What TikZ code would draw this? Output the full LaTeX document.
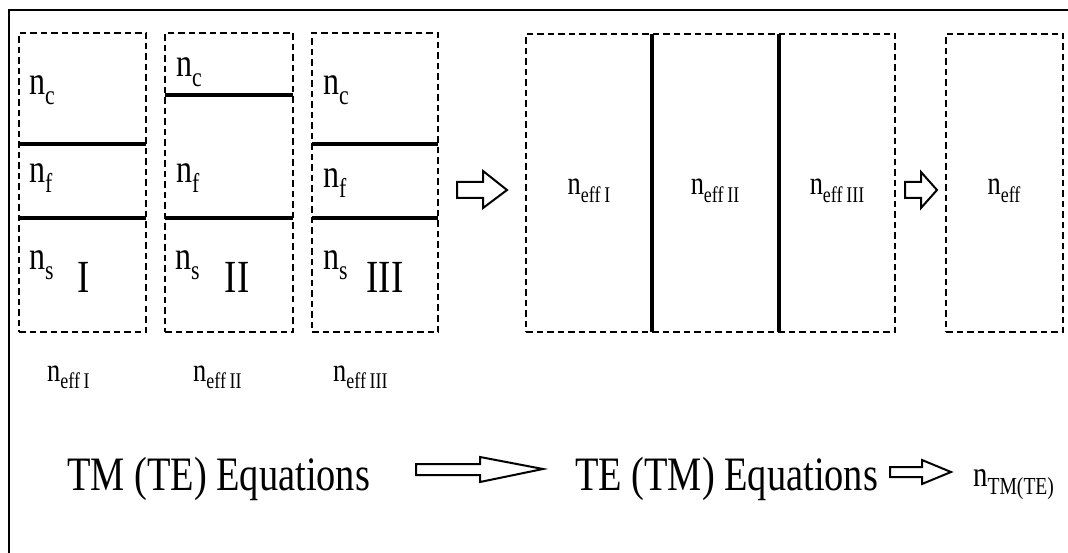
\documentclass[tikz,border=0pt]{standalone}
\usepackage{fontspec}
\setmainfont{Liberation Serif}[FakeStretch=0.8]
\newcommand{\nsub}[1]{n\raisebox{-0.24em}{\scalebox{0.68}{#1}}}
\tikzset{
  frameline/.style={line width=2pt},
  dbox/.style={draw, line width=2.2pt, dash pattern=on 6.5pt off 4pt, inner sep=0pt, outer sep=0pt, anchor=north west},
  layer/.style={line width=3.2pt},
  blockarrow/.style={draw, line width=2pt, fill=white, line join=miter},
  lbl/.style={font=\fontsize{40}{44}\selectfont, anchor=base west, inner sep=0pt},
  roman/.style={font=\fontsize{46}{50}\selectfont, anchor=base, inner sep=0pt},
  eff/.style={font=\fontsize{33}{36}\selectfont, anchor=base, inner sep=0pt},
  effw/.style={font=\fontsize{33}{36}\selectfont, anchor=base west, inner sep=0pt},
  eqn/.style={font=\fontsize{48}{52}\selectfont, anchor=base west, inner sep=0pt},
}
\begin{document}
\begin{tikzpicture}[x=1pt,y=-1pt]
\useasboundingbox (0,0) rectangle (1068,553);
% outer frame (top and left only)
\draw[frameline] (9,553) -- (9,10) -- (1068,10);

% three layer boxes
\node[dbox, minimum width=127pt, minimum height=299pt] (b1) at (19,33) {};
\node[dbox, minimum width=128pt, minimum height=299pt] (b2) at (165,33) {};
\node[dbox, minimum width=126pt, minimum height=299pt] (b3) at (312,33) {};
\draw[layer] (19,144) -- (146,144);
\draw[layer] (19,218) -- (146,218);
\draw[layer] (165,95) -- (293,95);
\draw[layer] (165,218) -- (293,218);
\draw[layer] (312,144) -- (438,144);
\draw[layer] (312,218) -- (438,218);

% labels box I
\node[lbl] (c1) at (29,95) {\nsub{c}};
\node[lbl] (f1) at (29,183) {\nsub{f}};
\node[lbl] (s1) at (29,270) {\nsub{s}};
\node[roman] (r1) at (84,293) {I};
% labels box II
\node[lbl] (c2) at (176,77) {\nsub{c}};
\node[lbl] (f2) at (176,183) {\nsub{f}};
\node[lbl] (s2) at (175,270) {\nsub{s}};
\node[roman] (r2) at (237,293) {II};
% labels box III
\node[lbl] (c3) at (323,95) {\nsub{c}};
\node[lbl] (f3) at (323,188) {\nsub{f}};
\node[lbl] (s3) at (323,270) {\nsub{s}};
\node[roman] (r3) at (385,293) {III};

% labels under boxes
\node[effw] (e1) at (47,381) {\nsub{eff\,I}};
\node[effw] (e2) at (193,381) {\nsub{eff\,II}};
\node[effw] (e3) at (333,381) {\nsub{eff\,III}};

% arrow 1
\draw[blockarrow] (457,182) -- (483,182) -- (483,171) -- (507,190) -- (483,208) -- (483,198) -- (457,198) -- cycle;

% combined box
\node[dbox, minimum width=369pt, minimum height=298pt] (big) at (526,34) {};
\draw[layer] (652,34) -- (652,332);
\draw[layer] (779,34) -- (779,332);
\node[eff] (g1) at (589,195) {\nsub{eff\,I}};
\node[eff] (g2) at (715,195) {\nsub{eff\,II}};
\node[eff] (g3) at (837,195) {\nsub{eff\,III}};

% arrow 2
\draw[blockarrow] (905,182) -- (921,182) -- (921,172) -- (937,190) -- (921,208) -- (921,198) -- (905,198) -- cycle;

% final box
\node[dbox, minimum width=117pt, minimum height=298pt] (fin) at (946,34) {};
\node[eff] (g4) at (1004,195) {\nsub{eff}};

% bottom row
\node[eqn] (tm) at (67,490) {TM (TE) Equations};
\draw[blockarrow] (416,464) -- (480,464) -- (480,457) -- (543,469) -- (480,482) -- (480,475) -- (416,475) -- cycle;
\node[eqn] (te) at (575,490) {TE (TM) Equations};
\draw[blockarrow] (890,467) -- (922,467) -- (922,460) -- (951,472) -- (922,484) -- (922,477) -- (890,477) -- cycle;
\node[font=\fontsize{36}{40}\selectfont, anchor=base west, inner sep=0pt] (ntm) at (973,486) {\nsub{TM(TE)}};
\end{tikzpicture}
\end{document}
